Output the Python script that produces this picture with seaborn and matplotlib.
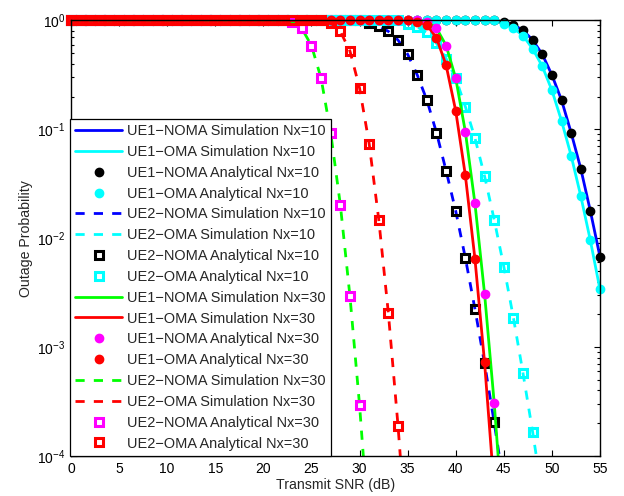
import numpy as np
import pandas as pd
import matplotlib
matplotlib.use("Agg")
import matplotlib.pyplot as plt
import seaborn as sns

# Transmit SNR grid (dB)
snr = list(range(0, 56))

# Outage probabilities (1 dB steps, starting at 0 dB)
ue1_noma_10 = [1.0] * 45 + [0.977, 0.912, 0.813, 0.661, 0.490, 0.316, 0.186,
                            0.0933, 0.0437, 0.0178, 0.00676]
ue1_oma_10 = [1.0] * 45 + [0.933, 0.851, 0.724, 0.550, 0.380, 0.229, 0.120,
                           0.0575, 0.0245, 0.00955, 0.00339]
ue2_noma_10 = [1.0] * 31 + [0.955, 0.891, 0.794, 0.661, 0.490, 0.316, 0.186,
                            0.0933, 0.0417, 0.0178, 0.00661, 0.00224,
                            7.08e-4, 2.04e-4, 5.4e-5]
ue2_oma_10 = [1.0] * 35 + [0.933, 0.871, 0.776, 0.617, 0.447, 0.295, 0.162,
                           0.0832, 0.0372, 0.0148, 0.00550, 0.00186,
                           5.75e-4, 1.66e-4, 4.4e-5]
ue1_noma_30 = [1.0] * 37 + [0.977, 0.851, 0.589, 0.295, 0.0955, 0.0209,
                            0.00309, 3.09e-4, 2.0e-5]
ue1_oma_30 = [1.0] * 36 + [0.977, 0.912, 0.692, 0.389, 0.148, 0.0380,
                           0.00646, 7.24e-4, 5.0e-5]
ue2_noma_30 = [1.0] * 23 + [0.977, 0.845, 0.589, 0.295, 0.0933, 0.0204,
                            0.00295, 2.95e-4, 1.9e-5]
ue2_oma_30 = [1.0] * 27 + [0.955, 0.794, 0.525, 0.240, 0.0741, 0.0148,
                           0.00204, 1.9e-4, 1.26e-5]

labels = [
    "UE1\u2212NOMA Simulation Nx=10", "UE1\u2212OMA Simulation Nx=10",
    "UE1\u2212NOMA Analytical Nx=10", "UE1\u2212OMA Analytical Nx=10",
    "UE2\u2212NOMA Simulation Nx=10", "UE2\u2212OMA Simulation Nx=10",
    "UE2\u2212NOMA Analytical Nx=10", "UE2\u2212OMA Analytical Nx=10",
    "UE1\u2212NOMA Simulation Nx=30", "UE1\u2212OMA Simulation Nx=30",
    "UE1\u2212NOMA Analytical Nx=30", "UE1\u2212OMA Analytical Nx=30",
    "UE2\u2212NOMA Simulation Nx=30", "UE2\u2212OMA Simulation Nx=30",
    "UE2\u2212NOMA Analytical Nx=30", "UE2\u2212OMA Analytical Nx=30",
]

sns.set_style("ticks")
plt.rcParams["font.family"] = ["Liberation Sans", "DejaVu Sans"]
plt.rcParams["mathtext.fontset"] = "custom"
plt.rcParams["mathtext.rm"] = "Liberation Sans"
plt.rcParams["axes.linewidth"] = 1.0

fig = plt.figure(figsize=(6.24, 4.96), dpi=100)
ax = fig.add_axes([0.1138, 0.0806, 0.9615 - 0.1138, 0.9587 - 0.0806])

B, C, K, G, R, M = (0, 0, 1), (0, 1, 1), (0, 0, 0), (0, 1, 0), (1, 0, 0), (1, 0, 1)
DASH = (0, (3.3, 3.3))
LW = 2.0


def frame(vals):
    return pd.DataFrame({"snr": snr[:len(vals)], "p": vals})


def sim(vals, color, ls, label):
    sns.lineplot(data=frame(vals), x="snr", y="p", ax=ax, color=color,
                 linestyle=ls, linewidth=LW, label=label,
                 estimator=None, errorbar=None, sort=False)


def ana(vals, color, marker, label):
    df = frame(vals)
    df = df[df["p"] >= 1e-4]
    if marker == "o":
        kw = dict(markersize=6.0, markerfacecolor=color, markeredgecolor=color,
                  markeredgewidth=1.0)
    else:
        kw = dict(markersize=5.2, markerfacecolor="none", markeredgecolor=color,
                  markeredgewidth=2.2)
    sns.lineplot(data=df, x="snr", y="p", ax=ax, color=color, linestyle="none",
                 marker=marker, label=label, estimator=None, errorbar=None,
                 sort=False, clip_on=False, **kw)


sim(ue1_noma_10, B, "-", labels[0])
sim(ue1_oma_10, C, "-", labels[1])
ana(ue1_noma_10, K, "o", labels[2])
ana(ue1_oma_10, C, "o", labels[3])
sim(ue2_noma_10, B, DASH, labels[4])
sim(ue2_oma_10, C, DASH, labels[5])
ana(ue2_noma_10, K, "s", labels[6])
ana(ue2_oma_10, C, "s", labels[7])
sim(ue1_noma_30, G, "-", labels[8])
sim(ue1_oma_30, R, "-", labels[9])
ana(ue1_noma_30, M, "o", labels[10])
ana(ue1_oma_30, R, "o", labels[11])
sim(ue2_noma_30, G, DASH, labels[12])
sim(ue2_oma_30, R, DASH, labels[13])
ana(ue2_noma_30, M, "s", labels[14])
ana(ue2_oma_30, R, "s", labels[15])

ax.set_yscale("log")
ax.set_xlim(0, 55)
ax.set_ylim(1e-4, 1)
ax.set_xticks(list(range(0, 56, 5)))
ax.set_yticks([1e-4, 1e-3, 1e-2, 1e-1, 1])
ax.tick_params(which="both", direction="in", top=True, right=True,
               labelsize=10, colors="black", width=0.8)
ax.tick_params(which="major", length=4.5, pad=4)
ax.tick_params(which="minor", length=2.5)
ax.tick_params(axis="x", which="minor", bottom=False, top=False)
for s in ax.spines.values():
    s.set_visible(True)
    s.set_color("black")
ax.set_xlabel("Transmit SNR (dB)", fontsize=10.2, labelpad=1.5)
ax.set_ylabel("Outage Probability", fontsize=10.2, labelpad=3)

handles, labs = ax.get_legend_handles_labels()
leg = ax.legend(handles, labs, loc="lower left", bbox_to_anchor=(-0.002, 0.0),
                borderaxespad=0.0, fontsize=10.45, frameon=True, fancybox=False,
                edgecolor="black", framealpha=1.0, handlelength=3.2,
                handletextpad=0.35, labelspacing=0.47, borderpad=0.38,
                numpoints=1)
leg.get_frame().set_linewidth(0.9)
leg.set_zorder(10)

fig.savefig("out.png", dpi=100)
